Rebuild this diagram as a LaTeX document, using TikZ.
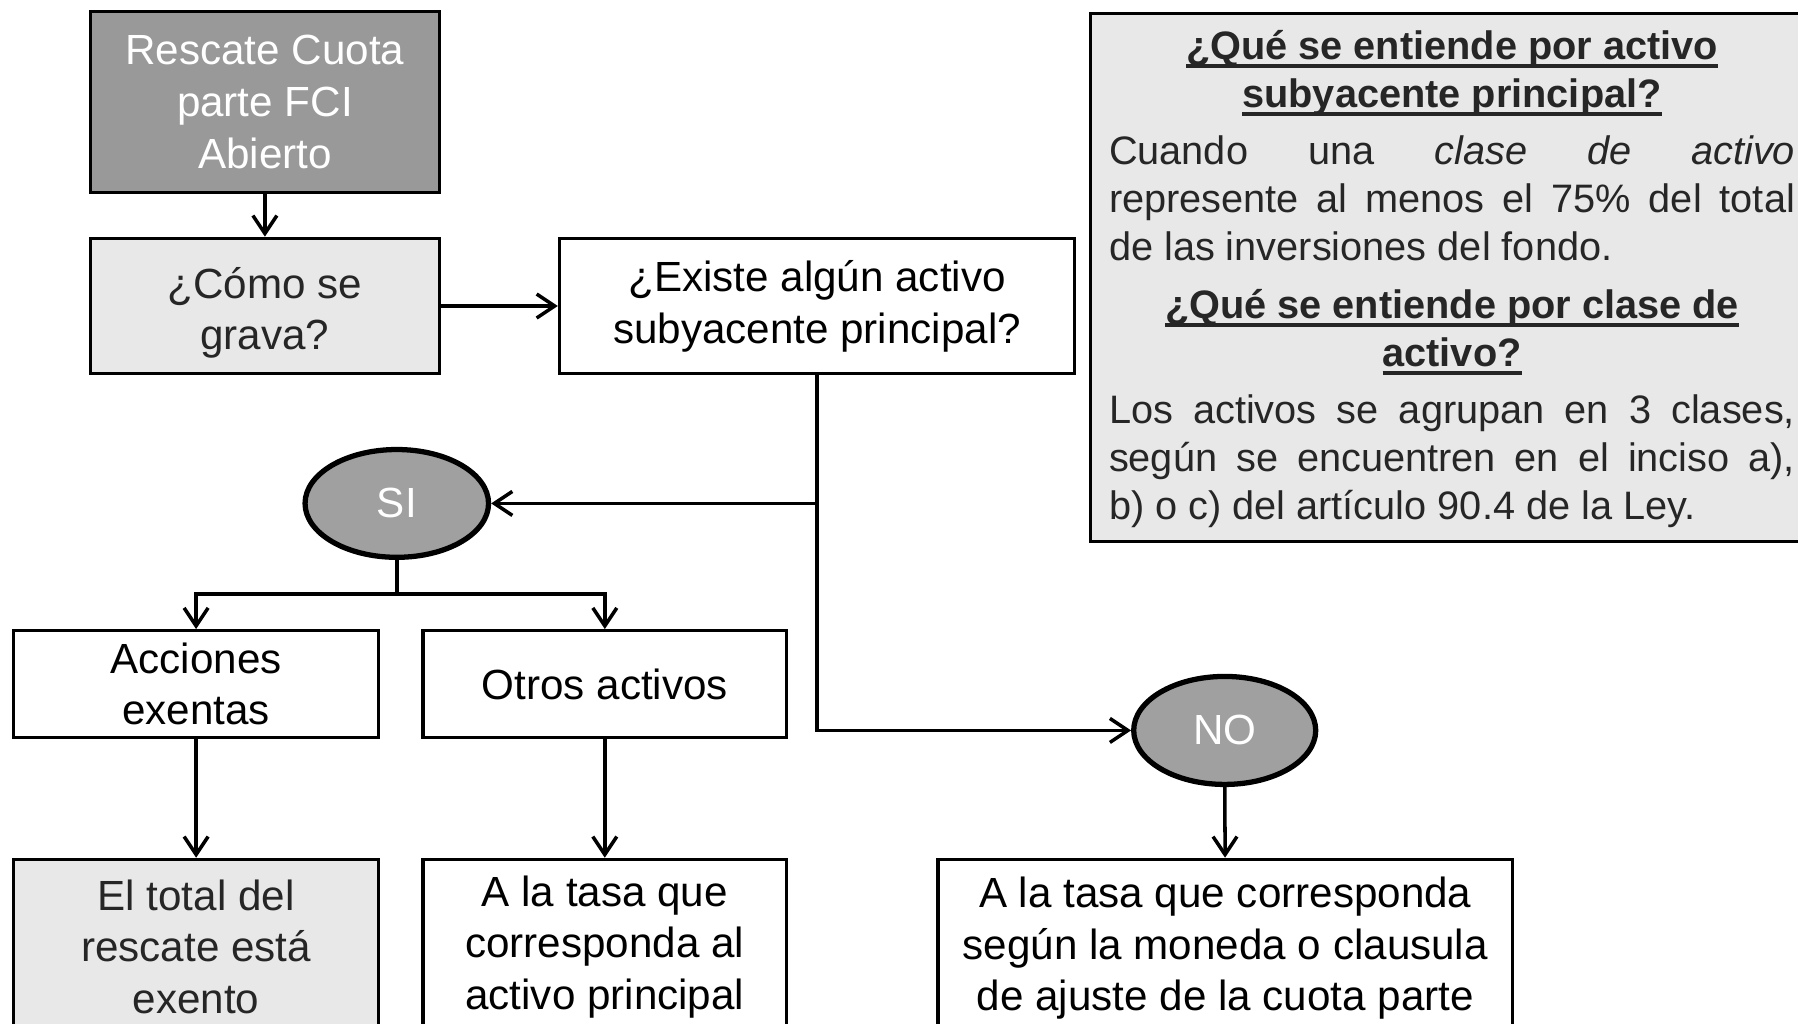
\documentclass[tikz,border=0pt]{standalone}
\usepackage{fontspec}
\setmainfont{Liberation Sans}
\usetikzlibrary{arrows.meta,shapes.geometric}
\definecolor{oscuro}{HTML}{999999}
\definecolor{claro}{HTML}{E8E8E8}
\definecolor{elipse}{HTML}{A0A0A0}
\definecolor{texto}{HTML}{262626}
\newcommand\subr[1]{\leavevmode\setbox0\hbox{#1}\rlap{\rule[-2.4pt]{\wd0}{1pt}}\box0}
\begin{document}
\begin{tikzpicture}[x=0.1mm,y=-0.1mm,>={Straight Barb[length=1.8mm,width=2.4mm]},
    caja/.style={draw,line width=0.95pt,rectangle,align=center,inner sep=0pt,font=\fontsize{12}{14.7}\selectfont},
    ovalo/.style={draw,line width=1.5pt,ellipse,fill=elipse,text=white,inner sep=0pt,font=\fontsize{12}{14.7}\selectfont},
    flecha/.style={->,line width=1pt}]
\useasboundingbox (0,0) rectangle (1798,1023);
% cajas de arriba
\node[caja,fill=oscuro,text=white,minimum width=34.86mm,minimum height=18.1mm] (rescate) at (264.9,102) {Rescate Cuota\\parte FCI\\Abierto};
\node[caja,fill=claro,text=texto,minimum width=34.86mm,minimum height=13.53mm] (grava) at (264.9,306) {\rule{0pt}{4.5mm}¿Cómo se\\grava?};
\node[caja,minimum width=51.5mm,minimum height=13.53mm] (existe) at (817,306) {¿Existe algún activo\\subyacente principal?};
\node[ovalo,minimum width=18.35mm,minimum height=10.78mm] (si) at (396.8,503.4) {SI};
\node[ovalo,minimum width=18.2mm,minimum height=10.8mm] (no) at (1224.7,730.4) {NO};
\node[caja,minimum width=36.46mm,minimum height=10.66mm] (acciones) at (196.1,684) {Acciones\\exentas};
\node[caja,minimum width=36.36mm,minimum height=10.66mm] (otros) at (604.8,684) {Otros activos};
% cajas de abajo
\node[caja,fill=claro,text=texto,anchor=north,minimum width=36.46mm,minimum height=17.5mm] (exento) at (196.1,857.7) {El total del\\rescate está\\exento};
\node[caja,anchor=north,minimum width=36.36mm,minimum height=17.5mm] (tasa) at (604.8,857.7) {A la tasa que\\corresponda al\\activo principal};
\node[caja,anchor=north,minimum width=57.45mm,minimum height=17.8mm] (moneda) at (1225.3,857.7) {A la tasa que corresponda\\según la moneda o clausula\\de ajuste de la cuota parte};
% nota
\node[draw,line width=0.95pt,fill=claro,anchor=north west,minimum width=75mm,minimum height=52.85mm] (nota) at (1089,11.5) {};
\node[text width=68.6mm,align=justify,text=texto,inner sep=0pt,font=\fontsize{11.3}{13.7}\selectfont] (notatexto) at (1452,279) {%
{\centering\bfseries\subr{¿Qué se entiende por activo}\\\subr{subyacente principal?}\par}\vspace{2.6pt}
Cuando una \textit{clase de activo}\linebreak represente al menos el 75\% del total\linebreak de las inversiones del fondo.\par\vspace{2.6pt}
{\centering\bfseries\subr{¿Qué se entiende por clase de}\\\subr{activo?}\par}\vspace{2.6pt}
Los activos se agrupan en 3 clases,\linebreak según se encuentren en el inciso a),\linebreak b) o c) del artículo 90.4 de la Ley.};
% conectores
\draw[flecha] (rescate) -- (grava);
\draw[flecha] (grava) -- (existe);
\coordinate (cruce) at (existe.south |- si.east);
\coordinate (rama) at (396.8,594);
\draw[flecha] (existe.south) |- (no.west);
\draw[flecha] (cruce) -- (si.east);
\draw[line width=1pt] (si.south) -- (rama);
\foreach \destino in {acciones,otros}
{
    \draw[flecha] (rama) -| (\destino.north);
}
\foreach \a/\b in {acciones/exento,otros/tasa,no/moneda}
{
    \draw[flecha] (\a) -- (\b);
}
\end{tikzpicture}
\end{document}
